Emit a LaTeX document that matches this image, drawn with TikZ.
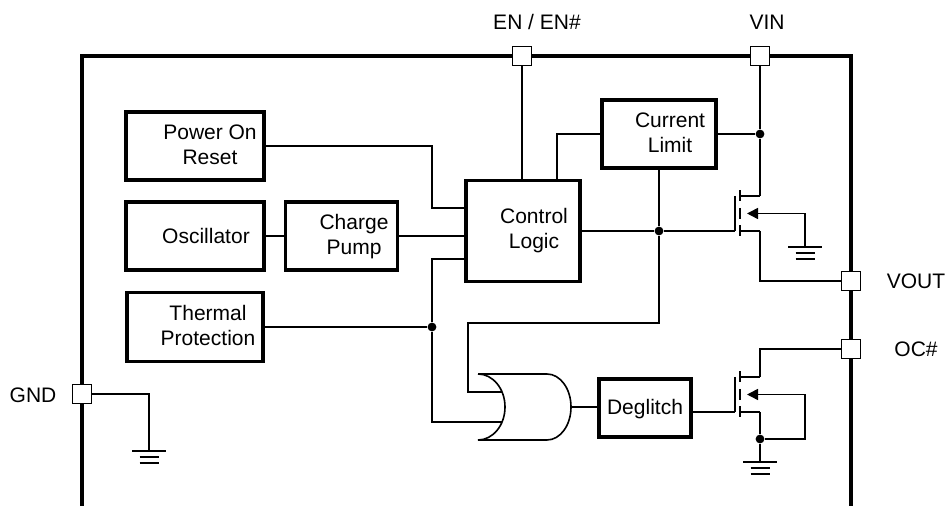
\documentclass[tikz,border=0pt]{standalone}
\usepackage{fontspec}
\setmainfont{Liberation Sans}
\usetikzlibrary{positioning}
\usetikzlibrary{arrows.meta}
\tikzstyle{block} = [rectangle, draw=black, line width=1.7pt, inner sep=0pt]
\tikzstyle{txt} = [align=center, inner sep=0pt]
\tikzstyle{wire} = [line width=0.8pt]
\tikzstyle{border} = [line width=1.7pt]
\tikzstyle{chan} = [line width=1.1pt]
\tikzstyle{pad} = [rectangle, draw=black, fill=white, line width=0.9pt, minimum size=9.5pt, inner sep=0pt]
\tikzstyle{junc} = [circle, fill=black, minimum size=4.4pt, inner sep=0pt]
% n-channel MOSFET: name, x, y of channel centre
\newcommand{\Nmos}[3]{%
  \coordinate (#1-g)  at ({#2-5},{#3+17.5});
  \coordinate (#1-gt) at ({#2-5},{#3-17.5});
  \coordinate (#1-dc) at (#2,{#3-17.5});
  \coordinate (#1-sc) at (#2,{#3+17.5});
  \coordinate (#1-bc) at ({#2+7},#3);
  \coordinate (#1-d)  at ({#2+20},{#3-17.5});
  \coordinate (#1-s)  at ({#2+20},{#3+17.5});
  \coordinate (#1-b)  at ({#2+65},#3);
  \draw[wire] (#1-gt) -- (#1-g);
  \draw[chan] (#2,{#3-23}) -- (#2,{#3-12}) (#2,{#3-5.5}) -- (#2,{#3+5.5}) (#2,{#3+12}) -- (#2,{#3+23});
  \draw[wire] (#1-dc) -- (#1-d) (#1-sc) -- (#1-s);
  \draw[wire, -{Triangle[length=5.5pt, width=5.5pt]}] (#1-b) -- (#1-bc);
}
% ground: name, x, y of top bar
\newcommand{\Ground}[3]{%
  \coordinate (#1) at (#2,#3);
  \draw[wire] ({#2-17},#3) -- ({#2+17},#3)
              ({#2-9.5},{#3+6}) -- ({#2+9.5},{#3+6})
              ({#2-9.5},{#3+12}) -- ({#2+9.5},{#3+12});
}
% OR gate: name, x of back, y of centre
\newcommand{\OrGate}[3]{%
  \coordinate (#1-a) at ({#2+24},{#3-15});
  \coordinate (#1-b) at ({#2+24},{#3+15});
  \coordinate (#1-o) at ({#2+93},#3);
  \draw[wire] (#2,{#3-33}) -- ({#2+69},{#3-33})
    arc[start angle=90, end angle=-90, x radius=12pt, y radius=16.5pt]
    -- (#2,{#3+33})
    arc[start angle=-90, end angle=90, x radius=13.5pt, y radius=16.5pt];
}

\begin{document}
\begin{tikzpicture}[x=0.5pt, y=-0.5pt, font=\fontsize{10.5}{12.5}\selectfont]
\useasboundingbox (0,0) rectangle (946,506);

% Package outline
\draw[border] (82,506) -- (82,56) -- (851,56) -- (851,506);

% Define nodes
\node[block, minimum width=69pt, minimum height=34pt]   (por) at (195,146) {};
\node[block, minimum width=69pt, minimum height=34pt]   (osc) at (195,236) {};
\node[block, right = 9pt of osc, minimum width=56pt, minimum height=34pt] (cp) {};
\node[block, minimum width=68pt, minimum height=34.5pt] (th)  at (195,327) {};
\node[block, minimum width=57pt, minimum height=50.5pt] (ctl) at (523,231) {};
\node[block, minimum width=57pt, minimum height=34pt]   (cl)  at (659,134) {};
\node[block, minimum width=46pt, minimum height=29pt]   (dg)  at (645,408) {};

\node[txt] (por-t) at (210,145) {Power On\\Reset};
\node[txt] (osc-t) at (206,236) {Oscillator};
\node[txt] (cp-t)  at (354,237) {Charge\\Pump};
\node[txt] (th-t)  at (208,325) {Thermal\\Protection};
\node[txt] (ctl-t) at (534,231) {Control\\Logic};
\node[txt] (cl-t)  at (670,133) {Current\\Limit};
\node[txt] (dg-t)  at (645,409) {Deglitch};

\node[junc] (j1) at (760,134) {};
\node[junc] (j2) at (659,231) {};
\node[junc] (j3) at (432,327) {};
\node[junc] (j4) at (760,439) {};

\coordinate (pb)   at (432,208);
\coordinate (pc)   at (432,259);
\coordinate (lp)   at (468,323);
\coordinate (clin) at (557,180);

\Nmos{q1}{740}{213.5}
\Nmos{q2}{740}{394.5}
\Ground{g1}{805}{247}
\Ground{g2}{760}{462}
\Ground{g3}{149}{451}
\OrGate{or}{478}{407}

% Pins
\node[pad] (en)   at (522,56)  {};
\node[pad] (vin)  at (760,56)  {};
\node[pad] (vout) at (851,281) {};
\node[pad] (ocn)  at (851,349) {};
\node[pad] (gnd)  at (82,394)  {};

\node[txt] (en-l)   at (537,22)  {EN / EN\#};
\node[txt] (vin-l)  at (767,22)  {VIN};
\node[txt] (vout-l) at (916,281) {VOUT};
\node[txt] (oc-l)   at (916,349) {OC\#};
\node[txt] (gnd-l)  at (33,395)  {GND};

% Edges
\draw[wire] (en.south) -- (en.south |- ctl.north);
\draw[wire] (por.east) -| (pb) -- (pb -| ctl.west);
\draw[wire] (osc.east) -- (cp.west);
\draw[wire] (cp.east) -- (cp.east -| ctl.west);
\draw[wire] (th.east) -- (j3);
\draw[wire] (j3) -- (pc) -- (pc -| ctl.west);
\draw[wire] (j3) |- (or-b);
\draw[wire] (cl.west) -| (clin);
\draw[wire] (cl.east) -- (j1);
\draw[wire] (vin.south) -- (j1) -- (q1-d);
\draw[wire] (ctl.east) -- (j2) -- (q1-g);
\draw[wire] (cl.south) -- (j2) -- (j2 |- lp) -- (lp) |- (or-a);
\draw[wire] (q1-b) -- (g1);
\draw[wire] (q1-s) |- (vout.west);
\draw[wire] (or-o) -- (or-o -| dg.west);
\draw[wire] (q2-g -| dg.east) -- (q2-g);
\draw[wire] (q2-d) |- (ocn.west);
\draw[wire] (q2-s) -- (j4) -- (g2);
\draw[wire] (q2-b) |- (j4);
\draw[wire] (gnd.east) -| (g3);

\end{tikzpicture}
\end{document}
